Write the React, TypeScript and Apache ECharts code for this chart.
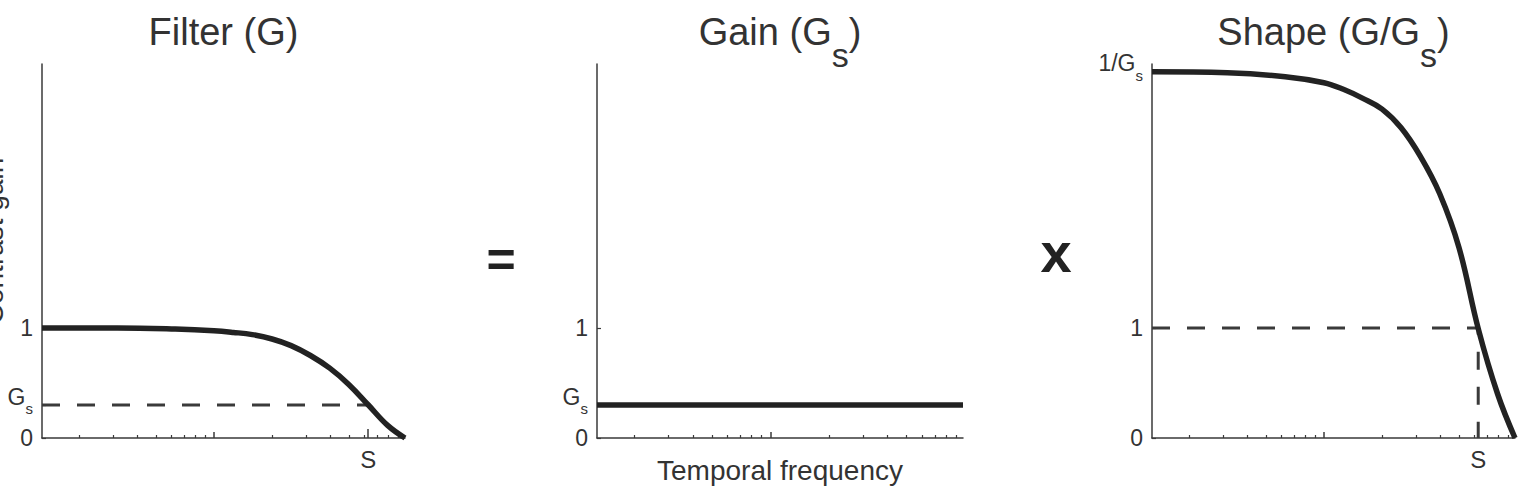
import React, { useEffect, useRef } from "react";
import * as echarts from "echarts";

// ---- data ----
const FREQ_MIN = 1.285;
const FREQ_MAX = 97.7;
const S_FREQ = 63;
const GS = 0.3;
const INV_GS = 3.33;
const Y_MAX = 3.4;

const filterFreq = [1.285, 3.16, 6.3, 10, 12.6, 15.8, 20, 25.1, 31.6, 39.8, 50.1, 63.1, 79.4, 97.7];
const filterGain = [1.0, 1.0, 0.99, 0.975, 0.96, 0.94, 0.9, 0.84, 0.75, 0.635, 0.485, 0.3, 0.115, 0.0];

const gainFreq = [1.285, 97.7];
const gainVals = [0.3, 0.3];

const shapeFreq = [1.285, 3.16, 6.3, 10, 12.6, 15.8, 20, 25.1, 31.6, 39.8, 50.1, 63.1, 79.4, 97.7];
const shapeVals = [3.33, 3.32, 3.285, 3.23, 3.17, 3.09, 2.99, 2.82, 2.56, 2.22, 1.73, 0.99, 0.4, 0.0];

const minorTicks = [2, 3, 4, 5, 6, 7, 8, 9, 20, 30, 40, 50, 60, 70, 80, 90];
const majorTicks = [10];

const leftYLabels = [0, GS, 1];
const rightYLabels = [0, 1, INV_GS];

const titles = ["Filter (G)", "Gain (G_s)", "Shape (G/G_s)"];
const yName = "Contrast gain";
const xName = "Temporal frequency";

// ---- styling ----
const FONT = "'Liberation Sans', Arial, Helvetica, sans-serif";
const AXIS_COLOR = "#3a3a3a";
const TEXT_COLOR = "#333";
const CURVE_COLOR = "#222";

const L = Math.log10;

const grids = [
  { left: 42, top: 64, width: 363, height: 374 },
  { left: 597, top: 64, width: 366, height: 374 },
  { left: 1152, top: 64, width: 363, height: 374 },
];

const labelRich = {
  g: { fontSize: 23, fontFamily: FONT, color: TEXT_COLOR, lineHeight: 23, padding: [0, 0, 17, 0] },
  s: { fontSize: 15, fontFamily: FONT, color: TEXT_COLOR, lineHeight: 15, padding: [16, 0, 9, 0] },
  n: { fontSize: 23, fontFamily: FONT, color: TEXT_COLOR, lineHeight: 23 },
};

function xAxisData(gridIndex: number, name?: string) {
  return {
    type: "value",
    gridIndex,
    position: "bottom",
    offset: 0,
    min: L(FREQ_MIN),
    max: L(FREQ_MAX),
    name: name || "",
    nameLocation: "middle",
    nameGap: 18,
    nameTextStyle: { fontSize: 28, fontFamily: FONT, color: TEXT_COLOR, verticalAlign: "top" },
    axisLine: { show: true, lineStyle: { color: AXIS_COLOR, width: 1.5 } },
    axisTick: {
      show: true,
      inside: true,
      length: 3,
      customValues: minorTicks.map(L),
      lineStyle: { color: AXIS_COLOR, width: 1.2 },
    },
    axisLabel: { show: false },
    splitLine: { show: false },
  };
}

function xAxisTicks(gridIndex: number, values: number[], len: number, withLabel: boolean) {
  return {
    type: "value",
    gridIndex,
    position: "bottom",
    offset: 0,
    min: L(FREQ_MIN),
    max: L(FREQ_MAX),
    axisLine: { show: false },
    axisTick: {
      show: true,
      inside: true,
      length: len,
      customValues: values.map(L),
      lineStyle: { color: AXIS_COLOR, width: 1.5 },
    },
    axisLabel: withLabel
      ? {
          show: true,
          customValues: values.map(L),
          formatter: () => "S",
          fontSize: 24,
          fontFamily: FONT,
          color: TEXT_COLOR,
          margin: 9,
        }
      : { show: false },
    splitLine: { show: false },
  };
}

function yAxis(gridIndex: number, labels: number[], fmt: (v: number) => string) {
  return {
    type: "value",
    gridIndex,
    position: "left",
    min: 0,
    max: Y_MAX,
    axisLine: { show: true, lineStyle: { color: AXIS_COLOR, width: 1.5 } },
    axisTick: {
      show: true,
      inside: true,
      length: 4,
      customValues: labels,
      lineStyle: { color: AXIS_COLOR, width: 1.2 },
    },
    axisLabel: {
      show: true,
      customValues: labels,
      formatter: fmt,
      margin: 9,
      rich: labelRich,
    },
    splitLine: { show: false },
  };
}

const near = (a: number, b: number) => Math.abs(a - b) < 1e-6;

const leftFmt = (v: number) => (near(v, GS) ? "{g|G}{s|s}" : `{n|${v}}`);
const rightFmt = (v: number) => (near(v, INV_GS) ? "{g|1/G}{s|s}" : `{n|${v}}`);

const toXY = (fs: number[], vs: number[]) => fs.map((f, i) => [L(f), vs[i]]);

const titleRich = {
  t: { fontSize: 38, fontFamily: FONT, fill: TEXT_COLOR, lineHeight: 38, padding: [0, 0, 22, 0] },
  s: { fontSize: 34, fontFamily: FONT, fill: TEXT_COLOR, lineHeight: 34, padding: [25, 0, 1, 0] },
};

function titleText(t: string) {
  const parts = t.split("_s");
  if (parts.length === 1) return `{t|${t}}`;
  return `{t|${parts[0]}}{s|s}{t|${parts[1]}}`;
}

const curveSeries = (xi: number, yi: number, data: number[][]) => ({
  type: "line",
  xAxisIndex: xi,
  yAxisIndex: yi,
  data,
  symbol: "none",
  smooth: 0.4,
  clip: false,
  lineStyle: { color: CURVE_COLOR, width: 5.5 },
  z: 3,
});

const dashSeries = (xi: number, yi: number, data: number[][]) => ({
  type: "line",
  xAxisIndex: xi,
  yAxisIndex: yi,
  data,
  symbol: "none",
  clip: false,
  lineStyle: { color: AXIS_COLOR, width: 3, type: [18, 17] },
  z: 2,
});

const option: any = {
  animation: false,
  backgroundColor: "#ffffff",
  textStyle: { fontFamily: FONT },
  grid: grids.map((g) => ({ ...g, containLabel: false, outerBoundsMode: "none" })),
  xAxis: [
    xAxisData(0),
    xAxisTicks(0, majorTicks, 6, false),
    xAxisTicks(0, [S_FREQ], 9, true),
    xAxisData(1, xName),
    xAxisTicks(1, majorTicks, 6, false),
    xAxisData(2),
    xAxisTicks(2, majorTicks, 6, false),
    xAxisTicks(2, [S_FREQ], 9, true),
  ],
  yAxis: [yAxis(0, leftYLabels, leftFmt), yAxis(1, leftYLabels, leftFmt), yAxis(2, rightYLabels, rightFmt)],
  series: [
    dashSeries(0, 0, [
      [L(FREQ_MIN), GS],
      [L(S_FREQ), GS],
    ]),
    curveSeries(0, 0, toXY(filterFreq, filterGain)),
    { ...curveSeries(3, 1, toXY(gainFreq, gainVals)), smooth: false },
    dashSeries(5, 2, [
      [L(FREQ_MIN), 1],
      [L(S_FREQ), 1],
      [L(S_FREQ), 0],
    ]),
    curveSeries(5, 2, toXY(shapeFreq, shapeVals)),
  ],
  graphic: [
    ...titles.map((t, i) => ({
      type: "text",
      x: grids[i].left + grids[i].width / 2,
      y: 24,
      style: {
        text: titleText(t),
        rich: titleRich,
        align: "center",
        verticalAlign: "top",
        fill: TEXT_COLOR,
        font: `38px ${FONT}`,
      },
    })),
    {
      type: "text",
      x: 501,
      y: 260,
      style: { text: "=", font: `bold 50px ${FONT}`, fill: "#222", align: "center", verticalAlign: "middle" },
    },
    {
      type: "text",
      x: 1056,
      y: 252,
      style: { text: "x", font: `bold 56px ${FONT}`, fill: "#222", align: "center", verticalAlign: "middle" },
    },
    {
      type: "text",
      x: 7,
      y: 241,
      rotation: Math.PI / 2,
      style: { text: yName, font: `28px ${FONT}`, fill: TEXT_COLOR, align: "center", verticalAlign: "bottom" },
    },
  ],
};

export default function App() {
  const ref = useRef<HTMLDivElement>(null);
  useEffect(() => {
    document.body.style.margin = "0";
    const chart = echarts.init(ref.current as HTMLDivElement, null, { renderer: "svg" });
    chart.setOption(option);
    return () => chart.dispose();
  }, []);
  return <div ref={ref} style={{ width: 1519, height: 489 }} />;
}
